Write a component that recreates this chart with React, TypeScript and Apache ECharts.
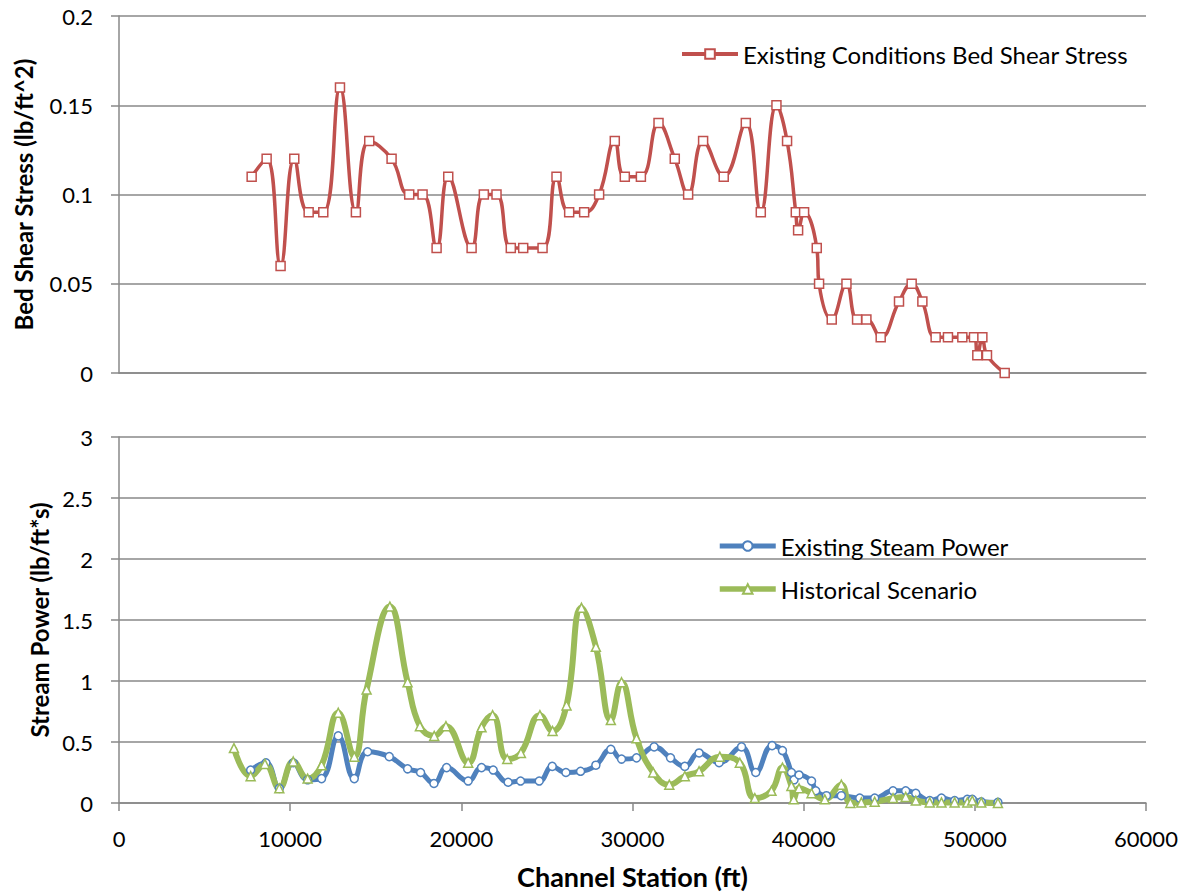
import React, { useEffect, useRef } from "react";
import * as echarts from "echarts";

const xTicks = { min: 0, max: 60000, interval: 10000 };

const shearX = [7750, 8625, 9440, 10240, 11080, 11935, 12910, 13840, 14620, 15925, 16955, 17735, 18555, 19235, 20600, 21315, 22055, 22890, 23615, 24745, 25560, 26300, 27175, 28050, 28965, 29550, 30490, 31520, 32470, 33250, 34125, 35330, 36620, 37495, 38410, 39030, 39540, 39675, 40025, 40765, 40900, 41640, 42500, 43120, 43665, 44500, 45570, 46310, 46935, 47710, 48430, 49270, 49950, 50145, 50440, 50710, 51745];
const shearY = [0.11, 0.12, 0.06, 0.12, 0.09, 0.09, 0.16, 0.09, 0.13, 0.12, 0.10, 0.10, 0.07, 0.11, 0.07, 0.10, 0.10, 0.07, 0.07, 0.07, 0.11, 0.09, 0.09, 0.10, 0.13, 0.11, 0.11, 0.14, 0.12, 0.10, 0.13, 0.11, 0.14, 0.09, 0.15, 0.13, 0.09, 0.08, 0.09, 0.07, 0.05, 0.03, 0.05, 0.03, 0.03, 0.02, 0.04, 0.05, 0.04, 0.02, 0.02, 0.02, 0.02, 0.01, 0.02, 0.01, 0];

const powerX = [7690, 8585, 9365, 10180, 11020, 11835, 12810, 13745, 14525, 15790, 16860, 17620, 18400, 19140, 20400, 21180, 21860, 22735, 23460, 24550, 25310, 26110, 26965, 27860, 28735, 29360, 30235, 31265, 32220, 33055, 33890, 35060, 36370, 37200, 38155, 38760, 39285, 39440, 39730, 40460, 40705, 41330, 42200, 43275, 44150, 45220, 45960, 46550, 47365, 48050, 48820, 49560, 49850, 50375, 51350];
const powerY = [0.27, 0.33, 0.12, 0.33, 0.19, 0.2, 0.55, 0.2, 0.42, 0.38, 0.28, 0.25, 0.16, 0.29, 0.18, 0.29, 0.27, 0.17, 0.18, 0.18, 0.3, 0.25, 0.26, 0.31, 0.44, 0.36, 0.37, 0.46, 0.37, 0.3, 0.41, 0.33, 0.46, 0.25, 0.47, 0.43, 0.25, 0.19, 0.23, 0.18, 0.1, 0.06, 0.06, 0.04, 0.04, 0.1, 0.1, 0.08, 0.02, 0.04, 0.02, 0.03, 0.03, 0.01, 0.005];

const histX = [6715, 7690, 8525, 9365, 10180, 11020, 11835, 12810, 13745, 14465, 15825, 16860, 17580, 18415, 19100, 20400, 21180, 21825, 22680, 23480, 24590, 25330, 26145, 27020, 27860, 28735, 29360, 30235, 31210, 32150, 33055, 33890, 35100, 36270, 37145, 38120, 38760, 39285, 39420, 39730, 40460, 41235, 42200, 42730, 43370, 44150, 45220, 45960, 46550, 47365, 48050, 48820, 49560, 49850, 50375, 51350];
const histY = [0.45, 0.22, 0.32, 0.12, 0.34, 0.2, 0.31, 0.74, 0.38, 0.93, 1.61, 0.99, 0.63, 0.55, 0.63, 0.33, 0.62, 0.72, 0.36, 0.41, 0.72, 0.59, 0.8, 1.6, 1.28, 0.68, 0.99, 0.53, 0.25, 0.15, 0.22, 0.26, 0.38, 0.33, 0.04, 0.1, 0.29, 0.14, 0.03, 0.12, 0.08, 0.03, 0.15, 0, 0.005, 0.01, 0.04, 0.05, 0.02, 0.005, 0.005, 0.005, 0.005, 0.02, 0.005, 0];

const seriesNames = ["Existing Conditions Bed Shear Stress", "Existing Steam Power", "Historical Scenario"];
const axisTitles = { shear: "Bed Shear Stress (lb/ft^2)", power: "Stream Power (lb/ft*s)", x: "Channel Station (ft)" };

const zip = (xs: number[], ys: number[]) => xs.map((x, i) => [x, ys[i]]);

const FONT = "Lato";
const GRAY = "#888888";
const RED = "#C0504D";
const BLUE = "#4F81BD";
const GREEN = "#9BBB59";

export default function App() {
  const ref = useRef<HTMLDivElement>(null);
  useEffect(() => {
    if (!ref.current) return;
    const chart = echarts.init(ref.current, null, { renderer: "svg" });
    const labelStyle = { color: "#000", fontFamily: FONT, fontSize: 22 };
    const legendText = { color: "#000", fontFamily: FONT, fontSize: 24 };
    const nameStyle = (size: number) => ({ color: "#000", fontFamily: FONT, fontSize: size, fontWeight: "bold" as const });
    const axisLine = { show: true, lineStyle: { color: GRAY, width: 1.5 } };
    const tick = { show: true, length: 8, lineStyle: { color: GRAY, width: 1.5 } };
    chart.setOption({
      animation: false,
      backgroundColor: "#fff",
      textStyle: { fontFamily: FONT },
      grid: [
        { left: 119, top: 16, width: 1027, height: 357 },
        { left: 119, top: 437, width: 1027, height: 366 },
      ],
      legend: [
        {
          data: [{ name: seriesNames[0], lineStyle: { width: 4, color: RED } }],
          left: 680,
          top: 42,
          padding: 0,
          itemWidth: 56,
          itemHeight: 12,
          textStyle: legendText,
        },
        {
          data: [
            { name: seriesNames[1], lineStyle: { width: 5, color: BLUE } },
            { name: seriesNames[2], lineStyle: { width: 5.5, color: GREEN } },
          ],
          orient: "vertical",
          left: 717,
          top: 534,
          padding: 0,
          itemGap: 19,
          itemWidth: 56,
          itemHeight: 12,
          textStyle: legendText,
        },
      ],
      xAxis: [
        {
          gridIndex: 0,
          type: "value",
          ...xTicks,
          axisLabel: { show: false },
          axisTick: { show: false },
          axisLine,
          splitLine: { show: false },
        },
        {
          gridIndex: 1,
          type: "value",
          ...xTicks,
          name: axisTitles.x,
          nameLocation: "middle",
          nameGap: 60,
          nameTextStyle: nameStyle(27),
          axisLabel: { ...labelStyle, margin: 24, formatter: (v: number) => String(v) },
          axisTick: tick,
          axisLine,
          splitLine: { show: false },
        },
      ],
      yAxis: [
        {
          gridIndex: 0,
          type: "value",
          min: 0,
          max: 0.2,
          interval: 0.05,
          name: axisTitles.shear,
          nameLocation: "middle",
          nameGap: 84,
          nameTextStyle: nameStyle(24),
          axisLabel: { ...labelStyle, margin: 26 },
          axisTick: tick,
          axisLine,
          splitLine: { show: true, lineStyle: { color: GRAY, width: 1.5 } },
        },
        {
          gridIndex: 1,
          type: "value",
          min: 0,
          max: 3,
          interval: 0.5,
          name: axisTitles.power,
          nameLocation: "middle",
          nameGap: 68,
          nameTextStyle: nameStyle(24),
          axisLabel: { ...labelStyle, margin: 26 },
          axisTick: tick,
          axisLine,
          splitLine: { show: true, lineStyle: { color: GRAY, width: 1.5 } },
        },
      ],
      series: [
        {
          name: seriesNames[0],
          type: "line",
          xAxisIndex: 0,
          yAxisIndex: 0,
          data: zip(shearX, shearY),
          smooth: 0.45,
          symbol: "rect",
          symbolSize: 9,
          color: RED,
          lineStyle: { color: RED, width: 3.5 },
          itemStyle: { color: "#fff", borderColor: RED, borderWidth: 1.5 },
        },
        {
          name: seriesNames[1],
          type: "line",
          xAxisIndex: 1,
          yAxisIndex: 1,
          data: zip(powerX, powerY),
          smooth: 0.45,
          symbol: "circle",
          symbolSize: 8,
          color: BLUE,
          lineStyle: { color: BLUE, width: 5 },
          itemStyle: { color: "#fff", borderColor: BLUE, borderWidth: 1.5 },
        },
        {
          name: seriesNames[2],
          type: "line",
          xAxisIndex: 1,
          yAxisIndex: 1,
          data: zip(histX, histY),
          smooth: 0.45,
          symbol: "triangle",
          symbolSize: 9,
          color: GREEN,
          lineStyle: { color: GREEN, width: 6 },
          itemStyle: { color: "#fff", borderColor: GREEN, borderWidth: 1.5 },
        },
      ],
    });
    return () => chart.dispose();
  }, []);
  return (
    <div
      ref={ref}
      style={{ position: "absolute", left: 0, top: 0, width: 1186, height: 894, background: "#fff" }}
    />
  );
}
